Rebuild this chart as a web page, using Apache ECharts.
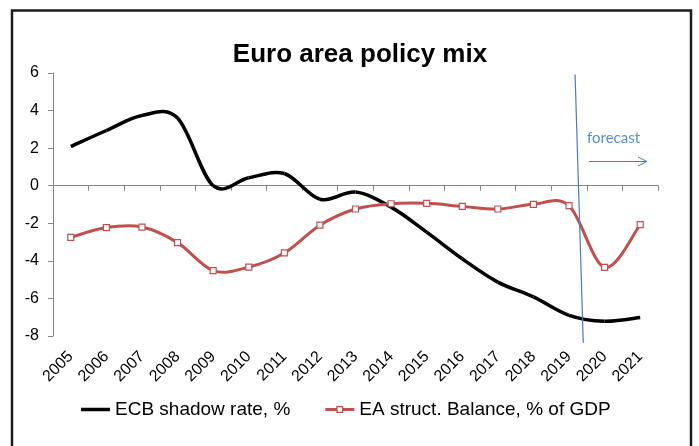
<!DOCTYPE html>
<html>
<head>
<meta charset="utf-8">
<script src="https://cdn.jsdelivr.net/npm/echarts@6/dist/echarts.min.js"></script>
<style>
  html, body { margin: 0; padding: 0; background: #fff; }
  #chart { width: 699px; height: 446px; }
</style>
</head>
<body>
<div id="chart"></div>
<script>
// Years on the category axis
const years = ['2005','2006','2007','2008','2009','2010','2011','2012','2013',
               '2014','2015','2016','2017','2018','2019','2020','2021'];

// ECB shadow rate, %
const shadowRate = [2.09, 2.94, 3.74, 3.6, 0.0, 0.42, 0.65, -0.72, -0.34,
                    -1.14, -2.47, -3.89, -5.13, -5.92, -6.9, -7.22, -7.02];

// Euro area structural balance, % of GDP
const structBalance = [-2.75, -2.23, -2.2, -3.03, -4.52, -4.33, -3.58, -2.1, -1.24,
                       -0.96, -0.94, -1.1, -1.24, -0.99, -1.06, -4.35, -2.07];

// Value axis ticks
const yMin = -8, yMax = 6, yStep = 2;

const seriesNames = ['ECB shadow rate, %', 'EA struct. Balance, % of GDP'];
const annotationText = 'forecast';

const chart = echarts.init(document.getElementById('chart'), null, { renderer: 'canvas' });
const font = '"Liberation Sans", Arial, sans-serif';
const axisGrey = '#868686';
const blue = '#4a7ebb';
const red = '#c0504d';

// Spreadsheet-style smoothed curve: cubic Bezier segment between point i and i+1,
// with Catmull-Rom control points (1/6 of the neighbour chord).
function smoothSegment(api, values, i) {
  const n = values.length;
  const p = k => api.coord([Math.max(0, Math.min(n - 1, k)), values[Math.max(0, Math.min(n - 1, k))]]);
  const p0 = p(i - 1), p1 = p(i), p2 = p(i + 1), p3 = p(i + 2);
  return {
    x1: p1[0], y1: p1[1],
    x2: p2[0], y2: p2[1],
    cpx1: p1[0] + (p2[0] - p0[0]) / 6, cpy1: p1[1] + (p2[1] - p0[1]) / 6,
    cpx2: p2[0] - (p3[0] - p1[0]) / 6, cpy2: p2[1] - (p3[1] - p1[1]) / 6
  };
}

function curveRenderer(values, lineColor, lineWidth, withMarkers) {
  return function (params, api) {
    const i = params.dataIndex;
    const children = [];
    if (i < values.length - 1) {
      children.push({
        type: 'bezierCurve',
        shape: smoothSegment(api, values, i),
        style: { stroke: lineColor, lineWidth: lineWidth, fill: null, lineCap: 'butt' }
      });
    }
    if (withMarkers) {
      const c = api.coord([i, values[i]]);
      children.push({
        type: 'rect',
        shape: { x: c[0] - 3, y: c[1] - 3, width: 6, height: 6 },
        style: { fill: '#fff', stroke: lineColor, lineWidth: 1.2 },
        z2: 5
      });
    }
    return { type: 'group', children: children };
  };
}

// Legend glyphs: a thick bar, and a bar with a hollow square in the middle
const iconLine = 'path://M0,0H29V3.5H0Z';
const iconLineMarker = 'path://M0,2H11V0H18V2H29V5H18V7H11V5H0Z M12.3,1.2V5.8H16.7V1.2Z';

chart.setOption({
  animation: false,
  textStyle: { fontFamily: font },
  title: {
    text: 'Euro area policy mix',
    left: 355,
    textAlign: 'center',
    top: 37,
    textStyle: { fontFamily: font, fontWeight: 'bold', fontSize: 26, color: '#000' }
  },
  grid: { left: 53, top: 73, width: 605, height: 263 },
  legend: {
    left: 76,
    top: 395,
    itemWidth: 29,
    itemHeight: 7,
    itemGap: 35,
    textStyle: { fontFamily: font, fontSize: 19, color: '#000' },
    data: [
      { name: seriesNames[0], icon: iconLine },
      { name: seriesNames[1], icon: iconLineMarker }
    ]
  },
  xAxis: [
    {
      type: 'category',
      data: years,
      position: 'bottom',
      boundaryGap: true,
      axisLine: { onZero: true, lineStyle: { color: axisGrey, width: 1 } },
      axisTick: { show: true, length: 5, lineStyle: { color: axisGrey } },
      axisLabel: { show: false }
    },
    {
      type: 'category',
      data: years,
      position: 'bottom',
      boundaryGap: true,
      axisLine: { show: false, onZero: false },
      axisTick: { show: false },
      axisLabel: {
        rotate: 45,
        margin: 18,
        fontFamily: font,
        fontSize: 16,
        color: '#000',
        interval: 0
      }
    }
  ],
  yAxis: {
    type: 'value',
    min: yMin,
    max: yMax,
    interval: yStep,
    axisLine: { show: true, lineStyle: { color: axisGrey, width: 1 } },
    axisTick: { show: true, length: 5, lineStyle: { color: axisGrey } },
    splitLine: { show: false },
    axisLabel: { margin: 14, fontFamily: font, fontSize: 16, color: '#000' }
  },
  series: [
    {
      name: seriesNames[0],
      type: 'custom',
      xAxisIndex: 0,
      data: shadowRate.map((v, i) => [i, v]),
      encode: { x: 0, y: 1 },
      renderItem: curveRenderer(shadowRate, '#000', 3.5, false),
      itemStyle: { color: '#000' },
      clip: false,
      z: 3
    },
    {
      name: seriesNames[1],
      type: 'custom',
      xAxisIndex: 0,
      data: structBalance.map((v, i) => [i, v]),
      encode: { x: 0, y: 1 },
      renderItem: curveRenderer(structBalance, red, 3, true),
      itemStyle: { color: red },
      clip: false,
      z: 4
    }
  ]
});

// Forecast divider, arrow and caption positioned in data space (category index, value)
const xStart = chart.convertToPixel({ xAxisIndex: 0 }, 0);
const xStep = chart.convertToPixel({ xAxisIndex: 0 }, 1) - xStart;
function px(idx, val) {
  return [xStart + xStep * idx, chart.convertToPixel({ yAxisIndex: 0 }, val)];
}
const divTop = px(14.17, 5.92);
const divBot = px(14.40, -8.37);
const arrowA = px(14.56, 1.29);
const arrowB = px(16.19, 1.29);
const caption = px(15.25, 2.51);

chart.setOption({
  graphic: [
    {
      type: 'rect',
      shape: { x: 12, y: 10.5, width: 679, height: 470 },
      style: { fill: 'none', stroke: '#1c1c1c', lineWidth: 2.5 },
      silent: true
    },
    {
      type: 'line',
      shape: { x1: divTop[0], y1: divTop[1], x2: divBot[0], y2: divBot[1] },
      style: { stroke: blue, lineWidth: 1.2 },
      z: 10
    },
    {
      type: 'line',
      shape: { x1: arrowA[0], y1: arrowA[1], x2: arrowB[0], y2: arrowB[1] },
      style: { stroke: blue, lineWidth: 1 },
      z: 10
    },
    {
      type: 'polyline',
      shape: { points: [[arrowB[0] - 9, arrowB[1] - 4.5], [arrowB[0], arrowB[1]], [arrowB[0] - 9, arrowB[1] + 4.5]] },
      style: { stroke: blue, lineWidth: 1, fill: 'none' },
      z: 10
    },
    {
      type: 'text',
      x: caption[0],
      y: caption[1],
      style: {
        text: annotationText,
        fill: '#5b8fd0',
        font: '15px Lato, "Open Sans", sans-serif',
        textAlign: 'center',
        textVerticalAlign: 'middle'
      },
      z: 10
    }
  ]
});
</script>
</body>
</html>
